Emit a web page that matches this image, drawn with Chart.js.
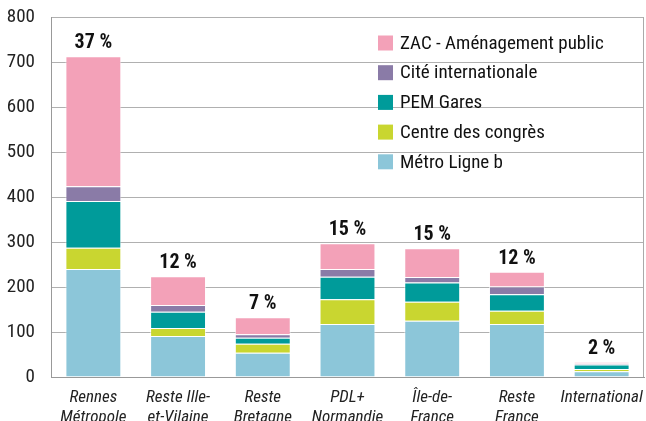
<!DOCTYPE html>
<html>
<head>
<meta charset="utf-8">
<script src="https://cdn.jsdelivr.net/npm/chart.js@4/dist/chart.umd.min.js"></script>
<style>
  html, body { margin: 0; padding: 0; background: #fff; }
  #wrap { width: 646px; height: 421px; }
</style>
</head>
<body>
<div id="wrap"><canvas id="chart" width="646" height="421"></canvas></div>
<script>
// ---- données ----
var categories = [
  ['Rennes', 'Métropole'], ['Reste Ille-', 'et-Vilaine'], ['Reste', 'Bretagne'],
  ['PDL+', 'Normandie'], ['Île-de-', 'France'], ['Reste', 'France'], 'International'
];
var metro   = [240, 91, 54, 118, 125, 118, 13];
var congres = [47, 18, 20, 55, 42, 29, 5];
var pem     = [104, 36, 13, 50, 43, 37, 10];
var cite    = [33, 15, 8, 17, 12, 17, 2];
var zac     = [289, 64, 38, 57, 64, 33, 3];
var pctLabels = ['37 %', '12 %', '7 %', '15 %', '15 %', '12 %', '2 %'];
var yTicks = [0, 100, 200, 300, 400, 500, 600, 700, 800];

var FONT = "'Roboto Condensed', 'Liberation Sans', sans-serif";

function ds(label, data, color) {
  return {
    label: label, data: data, backgroundColor: color,
    borderColor: 'rgba(255,255,255,0.6)', borderWidth: 1,
    categoryPercentage: 1, barPercentage: 0.66
  };
}

// étiquettes % au-dessus des barres
var pctPlugin = {
  id: 'pct',
  afterDatasetsDraw: function (chart) {
    var ctx = chart.ctx;
    var top = chart.getDatasetMeta(chart.data.datasets.length - 1);
    ctx.save();
    ctx.font = 'bold 20px ' + FONT;
    ctx.fillStyle = '#111';
    ctx.textAlign = 'center';
    ctx.textBaseline = 'alphabetic';
    top.data.forEach(function (bar, i) {
      ctx.fillText(pctLabels[i], bar.x, bar.y - 8);
    });
    ctx.restore();
  }
};

// légende dans la zone du graphique + bordure droite
var legendPlugin = {
  id: 'inlegend',
  afterDraw: function (chart) {
    var ctx = chart.ctx, a = chart.chartArea;
    ctx.save();
    ctx.strokeStyle = '#aaa';
    ctx.lineWidth = 1;
    ctx.beginPath();
    ctx.moveTo(a.right - 0.5, a.top);
    ctx.lineTo(a.right - 0.5, a.bottom);
    ctx.stroke();

    var sets = chart.data.datasets.slice().reverse();
    ctx.font = '19px ' + FONT;
    ctx.textBaseline = 'middle';
    ctx.textAlign = 'left';
    sets.forEach(function (d, i) {
      var y = 43 + i * 29.7;
      ctx.fillStyle = d.backgroundColor;
      ctx.fillRect(378, y - 7.5, 15, 15);
      ctx.fillStyle = '#111';
      ctx.fillText(d.label, 400, y + 1);
    });
    ctx.restore();
  }
};

new Chart(document.getElementById('chart'), {
  type: 'bar',
  data: {
    labels: categories,
    datasets: [
      ds('Métro Ligne b', metro, '#8cc6d9'),
      ds('Centre des congrès', congres, '#c9d630'),
      ds('PEM Gares', pem, '#009b9a'),
      ds('Cité internationale', cite, '#8a7ba7'),
      ds('ZAC - Aménagement public', zac, '#f3a1b8')
    ]
  },
  options: {
    responsive: false,
    animation: false,
    layout: { padding: { left: 0, right: 2, top: 17, bottom: 0 } },
    plugins: { legend: { display: false }, tooltip: { enabled: false } },
    scales: {
      x: {
        stacked: true,
        grid: { display: false },
        border: { display: true, color: '#999' },
        ticks: {
          color: '#222', padding: 3, maxRotation: 0, autoSkip: false,
          font: { family: FONT, size: 17, style: 'italic', lineHeight: 1.15 }
        },
        afterFit: function (s) { s.height = 44; s.paddingLeft = 0; s.paddingRight = 0; }
      },
      y: {
        stacked: true,
        min: 0, max: 800,
        afterBuildTicks: function (s) { s.ticks = yTicks.map(function (v) { return { value: v }; }); },
        grid: { color: '#b0b0b0', drawTicks: false },
        border: { display: true, color: '#999' },
        ticks: { color: '#222', padding: 16, font: { family: FONT, size: 19 } },
        afterFit: function (s) { s.width = 51; s.paddingTop = 0; s.paddingBottom = 0; }
      }
    }
  },
  plugins: [pctPlugin, legendPlugin]
});
</script>
</body>
</html>
